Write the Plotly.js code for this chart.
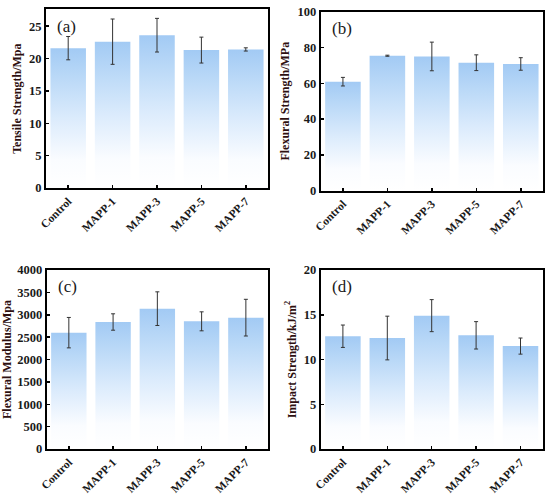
<!DOCTYPE html>
<html>
<head>
<meta charset="utf-8">
<script src="https://cdn.plot.ly/plotly-3.0.1.min.js"></script>
<style>html,body{margin:0;padding:0;background:#fff;}#chart{width:550px;height:497px;}</style>
</head>
<body>
<div id="chart"></div>
<script>
const categories = ["Control", "MAPP-1", "MAPP-3", "MAPP-5", "MAPP-7"];

const tensile = [21.6, 22.6, 23.6, 21.3, 21.4];
const tensileErr = [1.8, 3.5, 2.6, 2.0, 0.25];

const flexStrength = [60.9, 75.4, 75.0, 71.5, 70.8];
const flexStrengthErr = [2.4, 0.3, 8.0, 4.4, 3.5];

const flexModulus = [2600, 2838, 3136, 2853, 2935];
const flexModulusErr = [340, 183, 376, 212, 410];

const impact = [12.6, 12.4, 14.9, 12.7, 11.5];
const impactErr = [1.25, 2.44, 1.79, 1.53, 0.9];

const panels = [
  {vals: tensile, err: tensileErr, title: "Tensile Strength/Mpa", label: "(a)", range: [0, 27.6], dtick: 5,
   xd: [46/550, 268/550], yd: [(497-188)/497, (497-9.3)/497]},
  {vals: flexStrength, err: flexStrengthErr, title: "Flexural Strength/MPa", label: "(b)", range: [0, 100], dtick: 20,
   xd: [320.7/550, 543/550], yd: [(497-190.7)/497, (497-11.7)/497]},
  {vals: flexModulus, err: flexModulusErr, title: "Flexural Modulus/Mpa", label: "(c)", range: [0, 4000], dtick: 500,
   xd: [46.7/550, 268/550], yd: [(497-449)/497, (497-270)/497]},
  {vals: impact, err: impactErr, title: "Impact Strength/kJ/m<sup>2</sup>", label: "(d)", range: [0, 20], dtick: 5,
   xd: [320.7/550, 542.7/550], yd: [(497-449)/497, (497-270)/497]}
];

const barHalf = 0.4;
const gradient = {type: "vertical", colorscale: [[0, "#ffffff"], [0.2, "#fafcff"], [0.5, "#dbebfc"], [0.8, "#b9d8f7"], [1, "#a2caf4"]]};
const serif = "Liberation Serif, Times New Roman, serif";

const data = [];
const layout = {
  width: 550, height: 497,
  margin: {l: 0, r: 0, t: 0, b: 0},
  paper_bgcolor: "#ffffff", plot_bgcolor: "#ffffff",
  showlegend: false,
  annotations: []
};

panels.forEach((p, k) => {
  const n = k + 1;
  const xa = n === 1 ? "x" : "x" + n;
  const ya = n === 1 ? "y" : "y" + n;
  const xKey = n === 1 ? "xaxis" : "xaxis" + n;
  const yKey = n === 1 ? "yaxis" : "yaxis" + n;
  const idx = categories.map((c, i) => i);
  p.vals.forEach((v, i) => {
    data.push({
      type: "scatter", mode: "none", xaxis: xa, yaxis: ya,
      x: [i - barHalf, i - barHalf, i + barHalf, i + barHalf],
      y: [0, v, v, 0],
      fill: "toself", fillcolor: "#b8d8f7", fillgradient: gradient,
      hoverinfo: "skip"
    });
  });
  data.push({
    type: "scatter", mode: "markers", xaxis: xa, yaxis: ya,
    x: idx, y: p.vals, text: categories,
    marker: {size: 1, opacity: 0},
    error_y: {type: "data", array: p.err, visible: true, color: "#333333", thickness: 1, width: 2}
  });
  layout[xKey] = {
    domain: p.xd, anchor: ya, range: [-0.5, 4.5],
    tickmode: "array", tickvals: idx, ticktext: categories, tickangle: -45,
    ticks: "inside", ticklen: 3, tickwidth: 1.5, tickcolor: "#000",
    showline: true, linewidth: 2, linecolor: "#000", mirror: true,
    showgrid: false, zeroline: false,
    tickfont: {family: serif, size: 11.5, color: "#1a1a1a", weight: "bold"}
  };
  layout[yKey] = {
    domain: p.yd, anchor: xa, range: p.range, dtick: p.dtick,
    ticks: "inside", ticklen: 3, tickwidth: 1.5, tickcolor: "#000",
    showline: true, linewidth: 2, linecolor: "#000", mirror: true,
    showgrid: false, zeroline: false,
    tickfont: {family: serif, size: 12.5, color: "#1a1a1a", weight: "bold"},
    title: {text: p.title, font: {family: serif, size: 12, color: "#2e1010", weight: "bold"}, standoff: 5}
  };
  layout.annotations.push({
    xref: xa + " domain", yref: ya + " domain", x: 0.04, y: 0.97,
    xanchor: "left", yanchor: "top", showarrow: false,
    text: p.label, font: {family: serif, size: 17, color: "#1a1a1a"}
  });
});

Plotly.newPlot("chart", data, layout, {staticPlot: true});
</script>
</body>
</html>
